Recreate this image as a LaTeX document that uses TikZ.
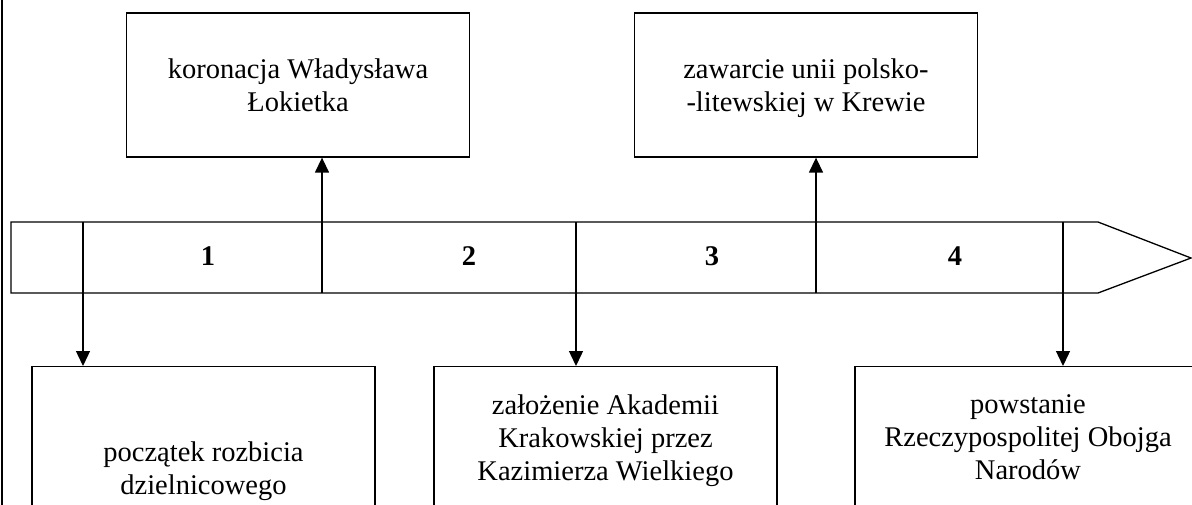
\documentclass[tikz,border=0pt]{standalone}
\usepackage{fontspec}
\setmainfont{Liberation Serif}
\usetikzlibrary{arrows.meta}
\begin{document}
\begin{tikzpicture}[x=1pt,y=-1pt,
  box/.style={draw, line width=1.3pt, align=center, inner sep=0pt,
    font=\fontsize{28.5}{33}\selectfont, minimum width=343pt},
  arr/.style={line width=1.4pt, -{Triangle[length=15pt,width=14pt]}},
  num/.style={font=\fontsize{28.5}{33}\selectfont\bfseries, inner sep=0pt, anchor=base},
  band/.style={draw, line width=1.3pt}]
\useasboundingbox (0,0) rectangle (1192,504);
\clip (0,0) rectangle (1192,504);
% left border
\draw[line width=2pt] (2,-2) -- (2,506);
% top boxes
\node[box, minimum height=144pt] (A) at (298,85) {koronacja Władysława\\Łokietka};
\node[box, minimum height=144pt, text depth=0pt] (B) at (806,85) {zawarcie unii polsko-\\-litewskiej w Krewie};
% bottom boxes
\node[box, anchor=north, minimum height=209pt] (C) at (203.5,366) {początek rozbicia\\dzielnicowego};
\node[box, anchor=north, minimum height=149pt] (D) at (605.5,366) {założenie Akademii\\Krakowskiej przez\\Kazimierza Wielkiego};
\node[box, anchor=north, minimum height=142pt, minimum width=346pt] (E) at (1028,366) {powstanie\\Rzeczypospolitej Obojga\\Narodów};
% time band
\coordinate (b1) at (11,222);
\coordinate (b2) at (1098,222);
\coordinate (tip) at (1191,258);
\coordinate (b3) at (1098,293);
\coordinate (b4) at (11,293);
\draw[band] (b1) -- (b2) -- (tip) -- (b3) -- (b4) -- cycle;
% dividers / arrows
\coordinate (d1) at (83,222);
\coordinate (u1) at (322,293);
\coordinate (d2) at (576,222);
\coordinate (u2) at (816,293);
\coordinate (d3) at (1063,222);
\draw[arr] (d1) -- (d1 |- C.north);
\draw[arr] (u1) -- (u1 |- A.south);
\draw[arr] (d2) -- (d2 |- D.north);
\draw[arr] (u2) -- (u2 |- B.south);
\draw[arr] (d3) -- (d3 |- E.north);
% period numbers
\node[num] (n1) at (208,265) {1};
\node[num] (n2) at (469,265) {2};
\node[num] (n3) at (712,265) {3};
\node[num] (n4) at (955,265) {4};
\end{tikzpicture}
\end{document}
